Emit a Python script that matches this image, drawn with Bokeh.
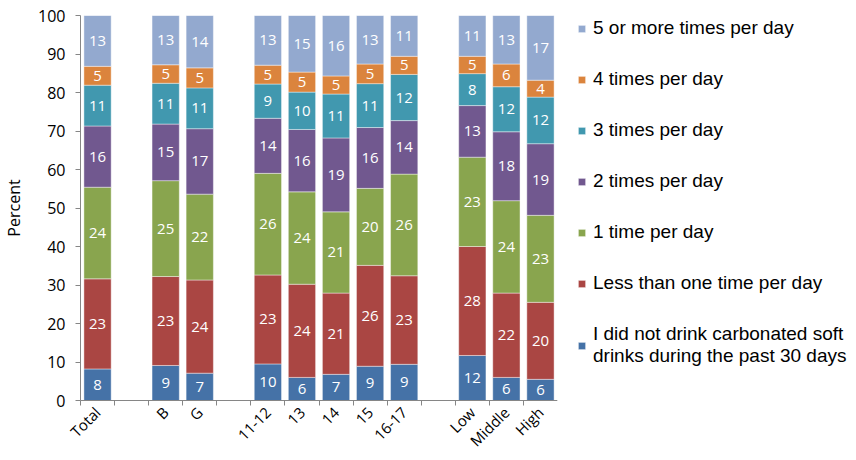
import math
from bokeh.plotting import figure
from bokeh.layouts import row
from bokeh.models import FixedTicker, Legend, LegendItem, ColumnDataSource, Range1d
from bokeh.embed import file_html
from bokeh.resources import INLINE
from bokeh.core.properties import value

# ---------------- data ----------------
groups = [["Total"], ["B", "G"], ["11-12", "13", "14", "15", "16-17"], ["Low", "Middle", "High"]]

series_names = [
    "I did not drink carbonated soft\ndrinks during the past 30 days",
    "Less than one time per day",
    "1 time per day",
    "2 times per day",
    "3 times per day",
    "4 times per day",
    "5 or more times per day",
]
colors = ["#4572A7", "#AA4643", "#89A54E", "#71588F", "#4198AF", "#DB843D", "#93A9CF"]

never_vals = [8.2, 9.1, 7.1, 9.5, 6.0, 6.8, 8.9, 9.4, 11.7, 6.0, 5.5]
less_vals = [23.4, 23.1, 24.2, 23.1, 24.2, 21.1, 26.2, 23.0, 28.3, 21.9, 20.0]
once_vals = [23.8, 24.9, 22.3, 26.4, 24.0, 21.1, 20.0, 26.4, 23.2, 24.0, 22.6]
twice_vals = [15.9, 14.7, 17.0, 14.3, 16.2, 19.2, 15.8, 13.9, 13.4, 17.9, 18.6]
three_vals = [10.6, 10.6, 10.6, 8.9, 9.7, 11.4, 11.4, 12.0, 8.3, 11.7, 12.1]
four_vals = [4.9, 4.8, 5.2, 4.9, 5.2, 4.7, 5.1, 4.7, 4.5, 5.9, 4.4]
five_vals = [13.2, 12.8, 13.6, 12.9, 14.7, 15.7, 12.6, 10.6, 10.6, 12.6, 16.8]

series_vals = [never_vals, less_vals, once_vals, twice_vals, three_vals, four_vals, five_vals]

y_ticks = list(range(0, 101, 10))

# ---------------- positions (one empty slot between groups) ----------------
categories = []
positions = []
slot = 0
for gi, grp in enumerate(groups):
    for c in grp:
        categories.append(c)
        positions.append(slot)
        slot += 1
    if gi < len(groups) - 1:
        slot += 1
n_slots = slot
boundaries = [b - 0.5 for b in range(n_slots + 1)]

FONT_NUM = "Open Sans"
AXIS_COL = "#868686"

p = figure(width=557, height=460,
           x_range=Range1d(-0.5, n_slots - 0.5), y_range=Range1d(0, 100),
           output_backend="svg", toolbar_location=None,
           min_border_left=78, min_border_right=0, min_border_top=15, min_border_bottom=60)
p.outline_line_color = None
p.xgrid.visible = False
p.ygrid.visible = False

bottoms = [0.0] * len(categories)
for name, col, vals in zip(series_names, colors, series_vals):
    tops = [b + v for b, v in zip(bottoms, vals)]
    mids = [(b + t) / 2 for b, t in zip(bottoms, tops)]
    labels = [str(int(math.floor(v + 0.5))) for v in vals]
    src = ColumnDataSource(dict(x=positions, bottom=list(bottoms), top=tops, mid=mids, label=labels))
    p.vbar(x="x", bottom="bottom", top="top", width=0.8, source=src,
           fill_color=col, line_color="white", line_width=0.6, line_alpha=0.7)
    p.text(x="x", y="mid", text="label", source=src, text_color="white",
           text_font=value(FONT_NUM), text_font_size="15px",
           text_align="center", text_baseline="middle")
    bottoms = tops

# ---------------- axes ----------------
xa = p.xaxis[0]
xa.ticker = FixedTicker(ticks=positions, minor_ticks=boundaries)
xa.major_label_overrides = {pos: c for pos, c in zip(positions, categories)}
xa.major_tick_line_color = None
xa.minor_tick_in = 0
xa.minor_tick_out = 5
xa.minor_tick_line_color = AXIS_COL
xa.axis_line_color = AXIS_COL
xa.major_label_orientation = math.pi / 4
xa.major_label_text_font = FONT_NUM
xa.major_label_text_font_size = "15px"
xa.major_label_text_color = "black"
xa.major_label_standoff = 3

ya = p.yaxis[0]
ya.ticker = FixedTicker(ticks=y_ticks)
ya.major_tick_in = 0
ya.major_tick_out = 5
ya.minor_tick_line_color = None
ya.major_tick_line_color = AXIS_COL
ya.axis_line_color = AXIS_COL
ya.major_label_text_font = FONT_NUM
ya.major_label_text_font_size = "16px"
ya.major_label_text_color = "black"
ya.major_label_standoff = 10
ya.axis_label = "Percent"
ya.axis_label_text_font = FONT_NUM
ya.axis_label_text_font_size = "16px"
ya.axis_label_text_font_style = "normal"
ya.axis_label_text_color = "black"
ya.axis_label_standoff = 10

# ---------------- legend (own panel to the right) ----------------
lp = figure(width=299, height=460, x_range=Range1d(0, 1), y_range=Range1d(0, 1),
            output_backend="svg", toolbar_location=None,
            x_axis_type=None, y_axis_type=None,
            min_border_left=0, min_border_right=0, min_border_top=0, min_border_bottom=0)
lp.outline_line_color = None
lp.xgrid.visible = False
lp.ygrid.visible = False

items = []
for name, col in zip(series_names, colors):
    # swatch renderer only (kept outside the visible range of this panel)
    r = lp.vbar(x=[-10], top=[-10], bottom=[-11], width=0.1, fill_color=col,
                line_color="white", line_width=0.6, line_alpha=0.7)
    items.append(LegendItem(label=name, renderers=[r]))
legend = Legend(items=items[::-1], location=(20, 33), orientation="vertical",
                glyph_width=9, glyph_height=9, label_standoff=7, spacing=29,
                padding=0, margin=0, border_line_alpha=0, background_fill_alpha=0,
                label_text_font="Liberation Sans", label_text_font_size="19px",
                label_height=20, label_text_color="black")
lp.add_layout(legend)

layout = row(p, lp)
open("out.html", "w").write(file_html(layout, INLINE))
